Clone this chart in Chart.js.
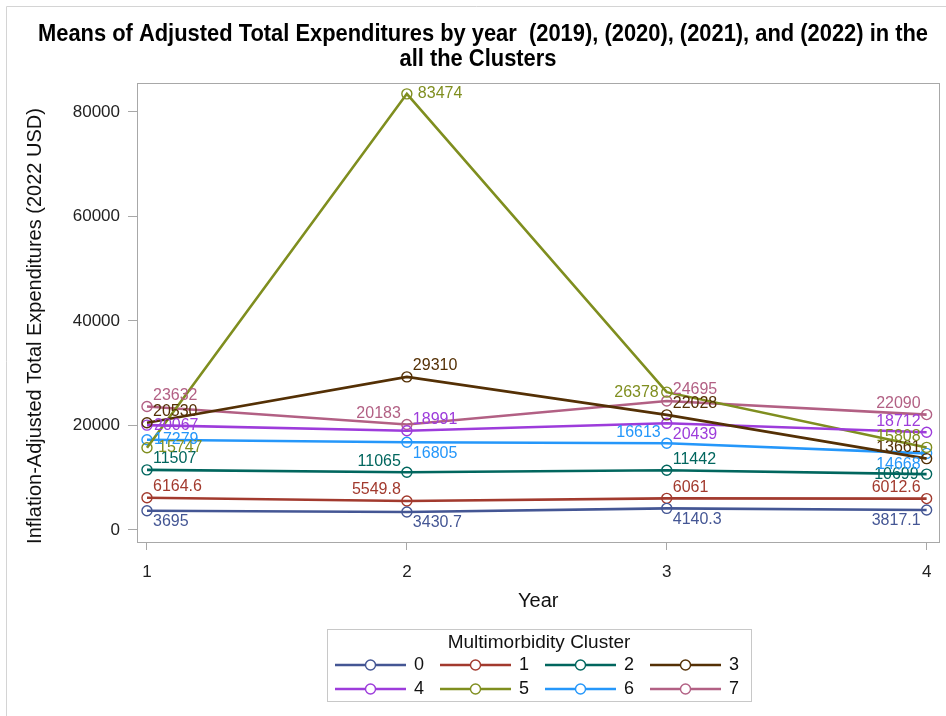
<!DOCTYPE html>
<html>
<head>
<meta charset="utf-8">
<script src="https://cdn.jsdelivr.net/npm/chart.js@4.4.1/dist/chart.umd.min.js"></script>
<style>
  html, body { margin: 0; padding: 0; background: #fff; }
  #wrap { width: 946px; height: 716px; position: relative; }
  canvas { display: block; }
</style>
</head>
<body>
<div id="wrap"><canvas id="chart" width="946" height="716"></canvas></div>
<script>
// Survey years 2019-2022 coded as 1-4
const years = [1, 2, 3, 4];
const clusterNames = ['0', '1', '2', '3', '4', '5', '6', '7'];

// Mean inflation-adjusted total expenditures (2022 USD) per cluster
const cluster0 = [3695, 3430.7, 4140.3, 3817.1];
const cluster1 = [6164.6, 5549.8, 6061, 6012.6];
const cluster2 = [11507, 11065, 11442, 10699];
const cluster3 = [20530, 29310, 22028, 13661];
const cluster4 = [20067, 18991, 20439, 18712];
const cluster5 = [15747, 83474, 26378, 15808];
const cluster6 = [17279, 16805, 16613, 14668];
const cluster7 = [23632, 20183, 24695, 22090];

const yTickValues = [0, 20000, 40000, 60000, 80000];
const xTickValues = [1, 2, 3, 4];

const seriesValues = [cluster0, cluster1, cluster2, cluster3, cluster4, cluster5, cluster6, cluster7];

// SAS HTMLBlue style group colours
const seriesColors = ['#445694', '#A23A2E', '#01665E', '#543005', '#9D3CDB', '#7F8E1F', '#2597FA', '#B26084'];

// Where each value label sits relative to its marker (u/l = up/low, r/l side)
const labelSpots = [
  ['lr', 'lr', 'lr', 'll'],
  ['ur', 'ul', 'ur', 'ul'],
  ['ur', 'ul', 'ur', 'l'],
  ['ur', 'ur', 'ur', 'ul'],
  ['r', 'ur', 'lr', 'ul'],
  ['rr', 'rr', 'l', 'ul'],
  ['r', 'lr', 'ul', 'll'],
  ['ur', 'ul', 'ur', 'ul']
];

const FONT = "'Liberation Sans', Arial, sans-serif";

const titleLines = [
  'Means of Adjusted Total Expenditures by year  (2019), (2020), (2021), and (2022) in the',
  'all the Clusters'
];
const yTitle = 'Inflation-Adjusted Total Expenditures (2022 USD)';
const xTitle = 'Year';
const legendTitle = 'Multimorbidity Cluster';

const datasets = seriesValues.map((vals, i) => ({
  label: clusterNames[i],
  data: years.map((x, j) => ({ x: x, y: vals[j] })),
  borderColor: seriesColors[i],
  backgroundColor: 'rgba(0,0,0,0)',
  borderWidth: 2.6,
  pointRadius: 5,
  pointBorderWidth: 1.4,
  pointBackgroundColor: 'rgba(0,0,0,0)',
  pointBorderColor: seriesColors[i],
  tension: 0
}));

// Plot frame, condensed two-line heading, rotated y-axis title
const framePlugin = {
  id: 'frame',
  beforeDatasetsDraw(chart) {
    const { ctx, chartArea: a } = chart;
    ctx.save();
    ctx.strokeStyle = '#a8a8a8';
    ctx.lineWidth = 1;
    ctx.strokeRect(Math.round(a.left) + 0.5, Math.round(a.top) + 0.5,
      Math.round(a.right - a.left) - 1, Math.round(a.bottom - a.top));
    ctx.restore();
  },
  afterDraw(chart) {
    const ctx = chart.ctx;

    // heading: bold, squeezed horizontally so the first line spans ~890px
    ctx.save();
    ctx.font = 'bold 23px ' + FONT;
    ctx.fillStyle = '#000';
    ctx.textAlign = 'center';
    ctx.textBaseline = 'middle';
    const w0 = ctx.measureText(titleLines[0]).width;
    const sx = Math.min(1, 890 / w0);
    ctx.translate(483, 0);
    ctx.scale(sx, 1);
    ctx.fillText(titleLines[0], 0, 35);
    ctx.fillText(titleLines[1], -5 / sx, 60);
    ctx.restore();

    ctx.save();
    ctx.font = '20px ' + FONT;
    ctx.fillStyle = '#111';
    ctx.textAlign = 'center';
    ctx.textBaseline = 'middle';
    ctx.translate(35, 326);
    ctx.rotate(-Math.PI / 2);
    ctx.fillText(yTitle, 0, 0);
    ctx.restore();

    ctx.save();
    ctx.strokeStyle = '#d4d4d4';
    ctx.lineWidth = 1;
    ctx.beginPath();
    ctx.moveTo(6.5, 716);
    ctx.lineTo(6.5, 6.5);
    ctx.lineTo(946, 6.5);
    ctx.stroke();
    ctx.restore();
  }
};

// Value labels next to each marker
const valueLabelPlugin = {
  id: 'valueLabels',
  afterDatasetsDraw(chart) {
    const ctx = chart.ctx;
    ctx.save();
    ctx.font = '16px ' + FONT;
    ctx.textBaseline = 'middle';
    chart.data.datasets.forEach((ds, i) => {
      const meta = chart.getDatasetMeta(i);
      meta.data.forEach((pt, j) => {
        const spot = labelSpots[i][j];
        const txt = String(seriesValues[i][j]);
        let x = pt.x, y = pt.y, align = 'left';
        if (spot === 'ur') { x += 6; y -= 11; }
        else if (spot === 'lr') { x += 6; y += 11; }
        else if (spot === 'ul') { x -= 6; y -= 11; align = 'right'; }
        else if (spot === 'll') { x -= 6; y += 11; align = 'right'; }
        else if (spot === 'r') { x += 7; }
        else if (spot === 'rr') { x += 11; }
        else if (spot === 'l') { x -= 8; align = 'right'; }
        ctx.textAlign = align;
        ctx.fillStyle = seriesColors[i];
        ctx.fillText(txt, x, y);
      });
    });
    ctx.restore();
  }
};

// Boxed legend with line+marker swatches under the plot
const legendPlugin = {
  id: 'clusterLegend',
  afterDraw(chart) {
    const ctx = chart.ctx;
    const box = { x: 327.5, y: 629.5, w: 424, h: 72 };
    ctx.save();
    ctx.strokeStyle = '#c8c8c8';
    ctx.lineWidth = 1;
    ctx.strokeRect(box.x, box.y, box.w, box.h);
    ctx.fillStyle = '#111';
    ctx.font = '19px ' + FONT;
    ctx.textAlign = 'center';
    ctx.textBaseline = 'middle';
    ctx.fillText(legendTitle, 539, 643);
    const colX = [335, 440, 545, 650];
    const rowY = [665, 689];
    chart.data.datasets.forEach((ds, i) => {
      const cx = colX[i % 4];
      const cy = rowY[Math.floor(i / 4)];
      ctx.strokeStyle = ds.borderColor;
      ctx.lineWidth = 2.6;
      ctx.beginPath();
      ctx.moveTo(cx, cy);
      ctx.lineTo(cx + 71, cy);
      ctx.stroke();
      ctx.lineWidth = 1.4;
      ctx.beginPath();
      ctx.arc(cx + 35.5, cy, 5, 0, Math.PI * 2);
      ctx.fillStyle = '#fff';
      ctx.fill();
      ctx.stroke();
      ctx.fillStyle = '#111';
      ctx.font = '18px ' + FONT;
      ctx.textAlign = 'left';
      ctx.fillText(ds.label, cx + 79, cy);
    });
    ctx.restore();
  }
};

new Chart(document.getElementById('chart'), {
  type: 'line',
  data: { datasets: datasets },
  plugins: [framePlugin, valueLabelPlugin, legendPlugin],
  options: {
    responsive: false,
    devicePixelRatio: 1,
    animation: false,
    layout: { padding: { left: 0, right: 3, top: 83, bottom: 94 } },
    plugins: {
      legend: { display: false },
      tooltip: { enabled: false },
      title: { display: false }
    },
    scales: {
      x: {
        type: 'linear',
        min: 0.9616,
        max: 4.0499,
        afterBuildTicks(scale) { scale.ticks = xTickValues.map(v => ({ value: v })); },
        afterFit(scale) { scale.height = 80; },
        grid: { drawOnChartArea: false, drawTicks: true, tickLength: 8, color: '#a8a8a8' },
        border: { display: false },
        ticks: { color: '#222', font: { family: FONT, size: 17 }, padding: 12, maxRotation: 0 },
        title: { display: true, text: xTitle, color: '#111', font: { family: FONT, size: 20 }, padding: { top: 0, bottom: 9 } }
      },
      y: {
        type: 'linear',
        min: -2297,
        max: 85550,
        afterBuildTicks(scale) { scale.ticks = yTickValues.map(v => ({ value: v })); },
        afterFit(scale) { scale.width = 137; },
        grid: { drawOnChartArea: false, drawTicks: true, tickLength: 9, color: '#a8a8a8' },
        border: { display: false },
        ticks: { color: '#222', font: { family: FONT, size: 17 }, padding: 8, callback: v => String(v) }
      }
    }
  }
});
</script>
</body>
</html>
